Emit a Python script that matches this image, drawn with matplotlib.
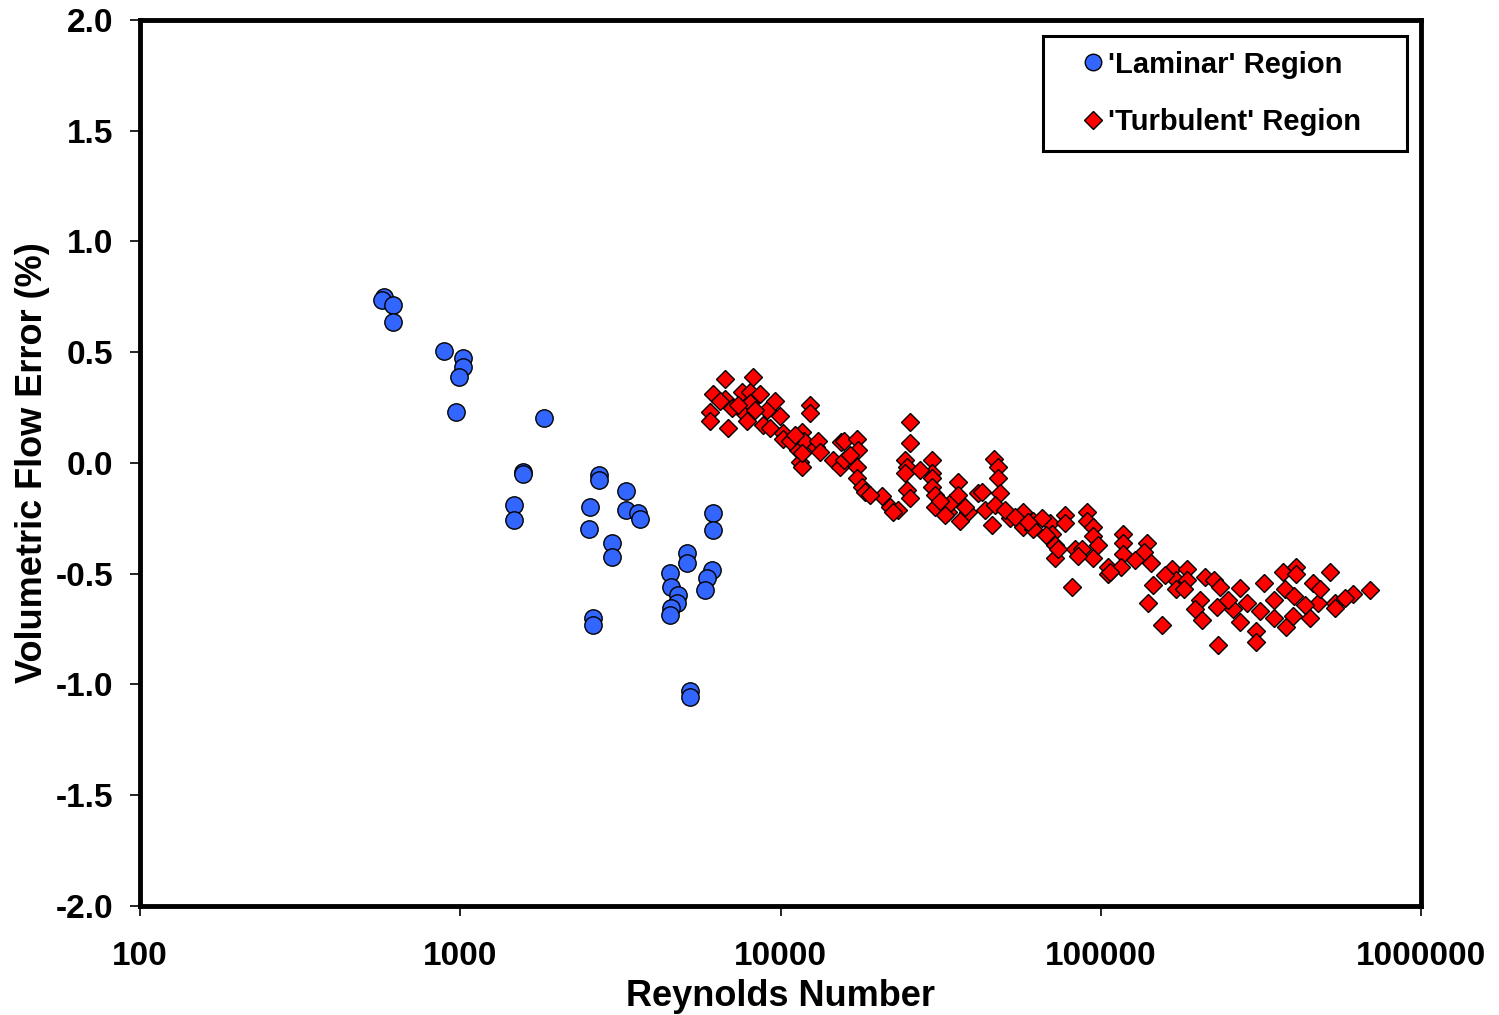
import numpy as np
import matplotlib
matplotlib.use("Agg")
import matplotlib.pyplot as plt

plt.rcParams['font.family'] = ['Liberation Sans', 'DejaVu Sans']
plt.rcParams['font.weight'] = 'bold'

# laminar region points (Reynolds number, % error)
lam_re = [578, 570, 617, 617, 889, 1020, 1020, 991, 970, 1825,
          1570, 1570, 1472, 1472, 2710, 2710, 2543, 2530, 3296, 3296,
          3591, 3640, 2977, 2977, 6150, 6150, 5107, 5107, 4518, 4560,
          4790, 4740, 4550, 4518, 6110, 5890, 5800, 2600, 2600, 5210, 5210]
lam_err = [0.75, 0.735, 0.713, 0.637, 0.506, 0.474, 0.433, 0.388, 0.23, 0.203,
           -0.04, -0.05, -0.19, -0.257, -0.054, -0.077, -0.199, -0.298, -0.126, -0.212,
           -0.226, -0.253, -0.361, -0.424, -0.226, -0.302, -0.406, -0.45, -0.497, -0.56,
           -0.596, -0.632, -0.655, -0.686, -0.483, -0.519, -0.573, -0.70, -0.731, -1.03, -1.056]

# turbulent region points
turb_re = [6030, 6030, 6160, 6720, 6720, 6860, 7060, 7580, 7750, 7860,
           8040, 8040, 8220, 8640, 8830, 9080, 9280, 9620, 9960, 10200,
           10200, 11300, 11500, 11700, 11700, 11800, 11700, 12400, 12400, 12900,
           13100, 14600, 15300, 15500, 15800, 15800, 17300, 17400, 17300, 17300,
           18000, 18400, 20800, 22000, 23300, 24500, 24900, 24500, 24900, 25400,
           25400, 25400, 29700, 29700, 29700, 29700, 30300, 30300, 33400, 33800,
           35800, 35800, 38500, 41300, 36400, 46400, 47700, 47700, 42600, 48500,
           43500, 46700, 45800, 52100, 57100, 61400, 57100, 61400, 69400, 77300,
           77300, 70400, 72000, 72000, 83000, 87600, 94400, 90500, 90500, 94700,
           94700, 81200, 105000, 105000, 65500, 117000, 117000, 117000, 116000, 107000,
           139000, 136000, 143000, 146000, 140000, 155000, 167000, 172000, 172000, 186000,
           186000, 212000, 225000, 236000, 204000, 197000, 207000, 231000, 258000, 272000,
           232000, 287000, 272000, 306000, 306000, 324000, 370000, 406000, 406000, 520000,
           461000, 375000, 400000, 347000, 478000, 539000, 614000, 693000, 347000, 380000,
           398000, 450000, 539000, 6480, 7370, 8330, 10700, 11100, 13300, 16500,
           19000, 22500, 27300, 31500, 32600, 37600, 50200, 54000, 59200, 67200,
           73400, 84800, 98000, 128000, 159000, 182000, 250000, 315000, 434000, 578000,
           484000]
turb_err = [0.23, 0.19, 0.31, 0.38, 0.29, 0.16, 0.25, 0.32, 0.22, 0.19,
            0.32, 0.27, 0.39, 0.31, 0.17, 0.24, 0.16, 0.28, 0.21, 0.135,
            0.11, 0.06, 0.005, -0.02, 0.14, 0.10, 0.045, 0.26, 0.225, 0.07,
            0.10, 0.015, -0.02, 0.095, 0.10, 0.015, 0.11, 0.06, -0.02, -0.07,
            -0.11, -0.13, -0.15, -0.20, -0.21, 0.015, -0.02, -0.045, -0.12, -0.16,
            0.09, 0.185, 0.015, -0.045, -0.07, -0.11, -0.145, -0.20, -0.22, -0.18,
            -0.085, -0.145, -0.22, -0.135, -0.26, 0.02, -0.02, -0.07, -0.13, -0.135,
            -0.21, -0.19, -0.28, -0.25, -0.22, -0.26, -0.29, -0.30, -0.27, -0.235,
            -0.27, -0.32, -0.37, -0.43, -0.39, -0.39, -0.43, -0.22, -0.26, -0.29,
            -0.33, -0.56, -0.50, -0.47, -0.25, -0.32, -0.36, -0.41, -0.47, -0.49,
            -0.36, -0.40, -0.45, -0.55, -0.63, -0.73, -0.48, -0.53, -0.57, -0.48,
            -0.53, -0.515, -0.53, -0.56, -0.62, -0.66, -0.71, -0.65, -0.66, -0.565,
            -0.82, -0.63, -0.72, -0.76, -0.81, -0.54, -0.49, -0.47, -0.50, -0.49,
            -0.54, -0.57, -0.60, -0.62, -0.63, -0.63, -0.59, -0.575, -0.70, -0.74,
            -0.69, -0.70, -0.655, 0.28, 0.26, 0.24, 0.10, 0.125, 0.05, 0.035,
            -0.145, -0.22, -0.03, -0.17, -0.235, -0.20, -0.21, -0.245, -0.265, -0.325,
            -0.39, -0.42, -0.37, -0.44, -0.505, -0.57, -0.62, -0.67, -0.64, -0.61,
            -0.57]

fig = plt.figure(figsize=(14.99, 10.15), dpi=100)
ax = fig.add_axes([0.0934, 0.1074, 0.8546, 0.8729])

ax.plot(lam_re, lam_err, 'o', ms=12.5, mfc='#3366FF', mec='black', mew=1.0,
        ls='none', label="'Laminar' Region")
ax.plot(turb_re, turb_err, 'D', ms=9.5, mfc='#FF0000', mec='black', mew=1.0,
        ls='none', label="'Turbulent' Region")

ax.set_xscale('log')
ax.set_xlim(100, 1000000)
ax.set_ylim(-2.0, 2.0)
ax.set_xticks([100, 1000, 10000, 100000, 1000000])
ax.set_xticklabels(['100', '1000', '10000', '100000', '1000000'])
ax.xaxis.set_minor_locator(matplotlib.ticker.NullLocator())
ax.set_yticks(np.arange(-2.0, 2.01, 0.5))
ax.set_yticklabels(['%.1f' % v for v in np.arange(-2.0, 2.01, 0.5)])

for s in ax.spines.values():
    s.set_linewidth(3.5)
ax.tick_params(axis='both', direction='out', length=7, width=1.2, labelsize=24)
ax.tick_params(axis='x', pad=18)
ax.tick_params(axis='y', pad=12)

ax.set_xlabel('Reynolds Number', fontsize=26, fontweight='bold', labelpad=5)
ax.set_ylabel('Volumetric Flow Error (%)', fontsize=26, fontweight='bold', labelpad=4)

# wide legend box, entries left-aligned inside
leg = ax.legend(loc='upper right', bbox_to_anchor=(0.705, 0.0, 0.284, 0.982),
                mode='expand', borderaxespad=0, fontsize=21, frameon=True,
                fancybox=False, handletextpad=-0.70, handlelength=2.43,
                borderpad=0.5, labelspacing=1.02, markerscale=0.95)
leg.get_frame().set_edgecolor('black')
leg.get_frame().set_linewidth(2.2)
leg.get_frame().set_alpha(1)

fig.savefig('out.png', dpi=100)
